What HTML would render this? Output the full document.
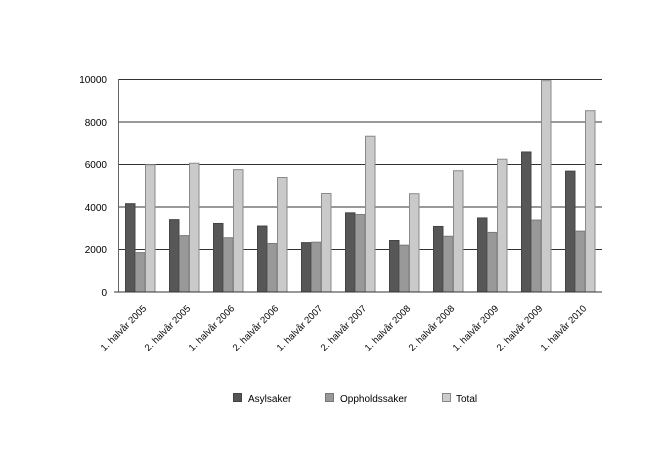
<!DOCTYPE html>
<html><head><meta charset="utf-8"><style>
html,body{margin:0;padding:0;background:#fff;}
svg{display:block;font-family:"Liberation Sans",sans-serif;}
</style></head><body>
<svg width="650" height="461" viewBox="0 0 650 461" xmlns="http://www.w3.org/2000/svg">
<g stroke="#333" stroke-width="1">
<line x1="118" y1="79.5" x2="602" y2="79.5"/>
<line x1="118" y1="122" x2="602" y2="122"/>
<line x1="118" y1="164.5" x2="602" y2="164.5"/>
<line x1="118" y1="207" x2="602" y2="207"/>
<line x1="118" y1="249.5" x2="602" y2="249.5"/>
</g>
<g font-size="10" fill="#000" text-anchor="end">
<text x="107" y="83">10000</text>
<text x="107" y="126">8000</text>
<text x="107" y="168">6000</text>
<text x="107" y="211">4000</text>
<text x="107" y="253">2000</text>
<text x="107" y="296">0</text>
</g>
<g id="bars" stroke-width="1"></g>
<line x1="118.5" y1="79" x2="118.5" y2="292" stroke="#666"/>
<line x1="114" y1="292" x2="602" y2="292" stroke="#333"/>
<g id="labels" font-size="9.5" fill="#000" text-anchor="end"></g>
<g font-size="10" fill="#000">
<rect x="233.5" y="393.5" width="8" height="8" fill="#555" stroke="#444"/>
<text x="248" y="402">Asylsaker</text>
<rect x="325.5" y="393.5" width="8" height="8" fill="#999" stroke="#777"/>
<text x="340" y="402">Oppholdssaker</text>
<rect x="442.5" y="393.5" width="8" height="8" fill="#ccc" stroke="#888"/>
<text x="456" y="402">Total</text>
</g>
<script>
var d=[[4150,1850,5980],[3400,2650,6050],[3220,2550,5750],[3100,2280,5380],[2320,2340,4630],[3720,3640,7320],[2420,2200,4620],[3080,2620,5700],[3480,2800,6240],[6580,3380,9930],[5680,2860,8520]];
var L=["1. halvår 2005","2. halvår 2005","1. halvår 2006","2. halvår 2006","1. halvår 2007","2. halvår 2007","1. halvår 2008","2. halvår 2008","1. halvår 2009","2. halvår 2009","1. halvår 2010"];
var fills=["#575757","#999999","#cacaca"],strokes=["#444","#7a7a7a","#8a8a8a"];
var ns="http://www.w3.org/2000/svg",g=document.getElementById("bars"),lg=document.getElementById("labels");
for(var i=0;i<11;i++){var x0=125+i*44;
for(var j=0;j<3;j++){var h=d[i][j]*0.02128;var r=document.createElementNS(ns,"rect");
r.setAttribute("x",x0+j*10+0.5);r.setAttribute("y",292-h);r.setAttribute("width",9.5);r.setAttribute("height",h);
r.setAttribute("fill",fills[j]);r.setAttribute("stroke",strokes[j]);g.appendChild(r);}
var t=document.createElementNS(ns,"text");var cx=x0+22,cy=309;
t.setAttribute("x",cx);t.setAttribute("y",cy);t.setAttribute("transform","rotate(-45 "+cx+" "+cy+")");t.textContent=L[i];lg.appendChild(t);}
</script>
</svg>
</body></html>
